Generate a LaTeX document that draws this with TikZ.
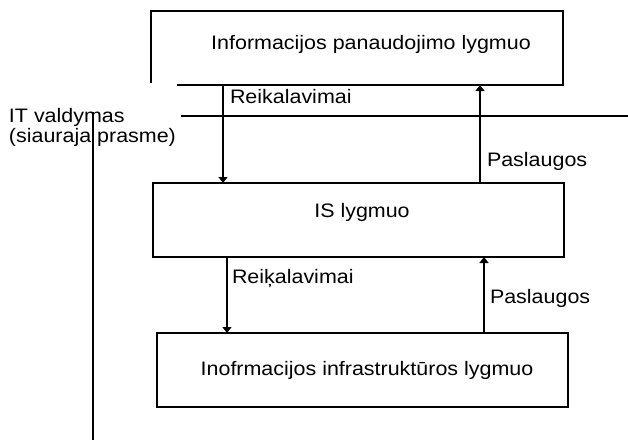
\documentclass[tikz,border=0pt]{standalone}
\usepackage{fontspec}
\setmainfont{Liberation Sans}[FakeStretch=1.1]
\usetikzlibrary{arrows.meta}
\begin{document}
\begin{tikzpicture}[x=1pt,y=-1pt,
  every node/.style={font=\fontsize{19.5}{21}\selectfont, inner sep=0pt, outer sep=0pt},
  lvl/.style={draw, line width=1.3pt, rectangle},
  conn/.style={line width=1.3pt, -{Triangle[width=9pt,length=6pt]}},
  rule/.style={line width=1.3pt},
  lbl/.style={anchor=base west}]
\useasboundingbox (0,0) rectangle (628,440);
% boxes
\node[minimum width=412pt, minimum height=74pt] (top) at (357,48) {};
\node[anchor=base] (toptxt) at (371,49) {Informacijos panaudojimo lygmuo};
\node[lvl, minimum width=411pt, minimum height=74pt] (is) at (358.5,220) {};
\node[anchor=base] (istxt) at (362,217) {IS lygmuo};
\node[lvl, minimum width=411pt, minimum height=74pt] (inf) at (362.5,370) {};
\node[anchor=base] (inftxt) at (367,375) {Inofrmacijos infrastruktūros lygmuo};
% partial outline of top box
\coordinate (tbl) at (177,85);
\coordinate (tlb) at (151,83);
\draw[rule] (tbl) -- (top.south east) -- (top.north east) -- (top.north west) -- (tlb);
% separators
\coordinate (hl) at (181,116);
\coordinate (hr) at (628,116);
\draw[rule] (hl) -- (hr);
\coordinate (vt) at (93,112);
\coordinate (vb) at (93,440);
\draw[line width=1.3pt] (vt) -- (vb);
% arrows
\draw[conn] (top.south -| 223,0) -- (is.north -| 223,0);
\draw[conn] (is.north -| 480,0) -- (top.south -| 480,0);
\draw[conn] (is.south -| 227,0) -- (inf.north -| 227,0);
\draw[conn] (inf.north -| 484,0) -- (is.south -| 484,0);
% labels
\node[lbl] (r1) at (230,103) {Reikalavimai};
\node[lbl] (p1) at (487,166) {Paslaugos};
\node[lbl] (r2) at (232,283) {Reiķalavimai};
\node[lbl] (p2) at (490,303) {Paslaugos};
\node[lbl] (itv1) at (9,122) {IT valdymas};
\node[lbl] (itv2) at (9,142) {(siauraja prasme)};
\end{tikzpicture}
\end{document}
